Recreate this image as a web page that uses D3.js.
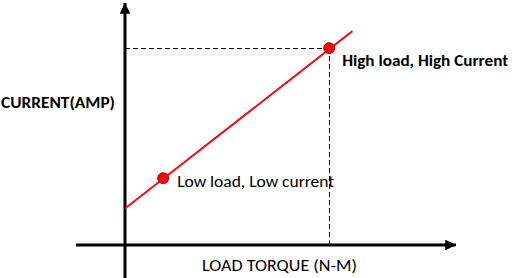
<!DOCTYPE html>
<html><head><meta charset="utf-8">
<script src="https://cdn.jsdelivr.net/npm/d3@7"></script>
<style>html,body{margin:0;padding:0;background:#fff;}svg{display:block;}</style>
</head><body>
<svg id="c" width="514" height="278"></svg>
<script>
// Data (arbitrary units)
const lineX = [0, 6.85];
const lineY = [1.5, 8.8];
const pointNames = ["Low load, Low current", "High load, High Current"];
const pointX = [1.15, 6.15];
const pointY = [2.75, 8.1];
const xTitle = "LOAD TORQUE (N-M)";
const yTitle = "CURRENT(AMP)";

const svg = d3.select("#c");
const x = d3.scaleLinear().domain([0, 10]).range([125, 457]);
const y = d3.scaleLinear().domain([0, 10]).range([245, 2]);
const crisp = v => Math.round(v) + 0.5;

// arrow markers
const defs = svg.append("defs");
defs.append("marker").attr("id", "arr").attr("viewBox", "0 0 10 10")
  .attr("refX", 10).attr("refY", 5).attr("markerWidth", 3.6).attr("markerHeight", 3.6)
  .attr("markerUnits", "strokeWidth").attr("orient", "auto")
  .append("path").attr("d", "M0,0L10,5L0,10Z").attr("fill", "#000");

// axes
svg.append("line").attr("x1", x(0)).attr("x2", x(0)).attr("y1", 278).attr("y2", y(10) + 1)
  .attr("stroke", "#000").attr("stroke-width", 3).attr("marker-end", "url(#arr)");
svg.append("line").attr("x1", 76).attr("x2", x(10) - 1).attr("y1", y(0)).attr("y2", y(0))
  .attr("stroke", "#000").attr("stroke-width", 3).attr("marker-end", "url(#arr)");

// dashed guides to the high point
const hx = pointX[1], hy = pointY[1];
svg.append("line").attr("x1", x(0)).attr("x2", x(hx)).attr("y1", crisp(y(hy))).attr("y2", crisp(y(hy)))
  .attr("stroke", "#000").attr("stroke-width", 1).attr("stroke-dasharray", "5,3");
svg.append("line").attr("x1", crisp(x(hx))).attr("x2", crisp(x(hx))).attr("y1", y(hy)).attr("y2", y(0) + 3)
  .attr("stroke", "#000").attr("stroke-width", 1).attr("stroke-dasharray", "5,3");

// red line
const lineData = lineX.map((v, i) => [v, lineY[i]]);
svg.append("path").datum(lineData)
  .attr("d", d3.line().x(d => x(d[0])).y(d => y(d[1])))
  .attr("fill", "none").attr("stroke", "#e8141a").attr("stroke-width", 2);

// points
const pts = pointX.map((v, i) => ({x: v, y: pointY[i], name: pointNames[i]}));
svg.selectAll("circle.p").data(pts).enter().append("circle")
  .attr("cx", d => x(d.x)).attr("cy", d => y(d.y)).attr("r", 5.5)
  .attr("fill", "#f00").attr("stroke", "#700").attr("stroke-width", 0.8);

// point labels
const font = "Carlito, Calibri, 'Open Sans', 'Liberation Sans', sans-serif";
svg.append("text").attr("x", x(pts[0].x) + 14).attr("y", y(pts[0].y) + 9)
  .attr("font-family", font).attr("font-size", 16).attr("fill", "#000")
  .attr("textLength", 157).attr("lengthAdjust", "spacingAndGlyphs")
  .text(pts[0].name);
svg.append("text").attr("x", x(pts[1].x) + 13).attr("y", y(pts[1].y) + 18)
  .attr("font-family", font).attr("font-size", 16).attr("font-weight", 600).attr("fill", "#000")
  .attr("textLength", 166).attr("lengthAdjust", "spacingAndGlyphs")
  .text(pts[1].name);

// axis titles
svg.append("text").attr("x", 1).attr("y", 108)
  .attr("font-family", font).attr("font-size", 16).attr("font-weight", 600).attr("fill", "#000")
  .attr("textLength", 114).attr("lengthAdjust", "spacingAndGlyphs")
  .text(yTitle);
svg.append("text").attr("x", 202).attr("y", 271)
  .attr("font-family", font).attr("font-size", 17).attr("fill", "#000")
  .attr("textLength", 155).attr("lengthAdjust", "spacingAndGlyphs")
  .text(xTitle);
</script>
</body></html>
